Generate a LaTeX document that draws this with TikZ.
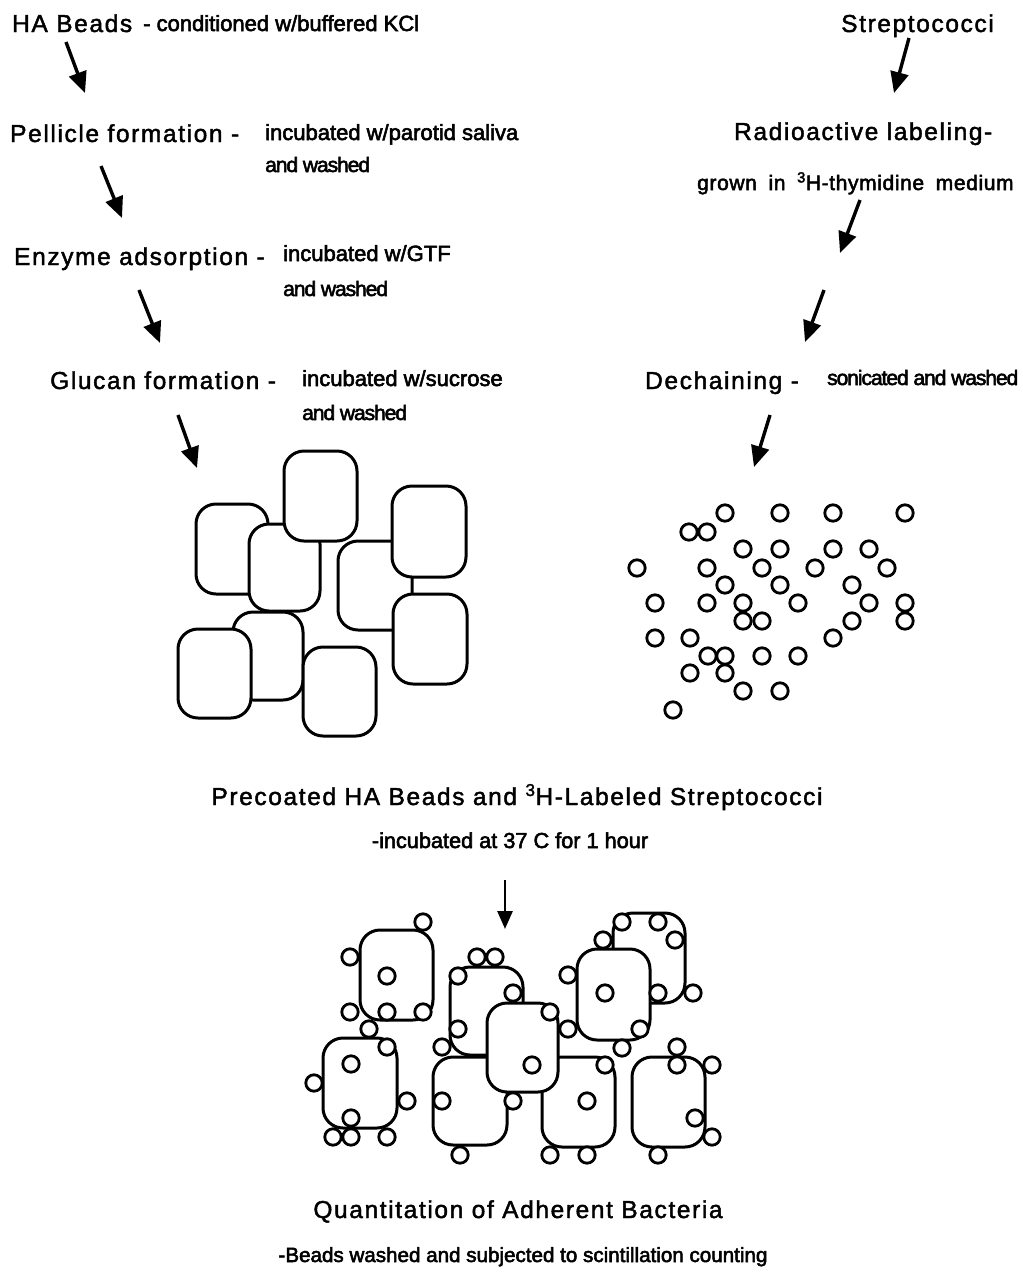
\documentclass[tikz,border=0pt]{standalone}
\usepackage{fontspec}
\setmainfont{Liberation Sans}
\newfontfamily\bigf[LetterSpace=6.6,FakeBold=1.8]{Liberation Sans}
\newfontfamily\smallf[FakeBold=2.6]{Liberation Sans}
\newfontfamily\tightf[FakeBold=2.6,LetterSpace=-5]{Liberation Sans}
\newfontfamily\medf[FakeBold=2.4,LetterSpace=3,WordSpace=1.8]{Liberation Sans}
\usetikzlibrary{arrows.meta}
\tikzset{
  txtbig/.style={font=\bigf\fontsize{24.5}{28}\selectfont, inner sep=0pt, anchor=base west},
  txtsmall/.style={font=\smallf\fontsize{22}{26}\selectfont, inner sep=0pt, anchor=base west},
  txttight/.style={font=\tightf\fontsize{21}{25}\selectfont, inner sep=0pt, anchor=base west},
  txtmed/.style={font=\medf\fontsize{21}{25}\selectfont, inner sep=0pt, anchor=base west},
  txtlow/.style={font=\smallf\fontsize{21}{25}\selectfont, inner sep=0pt, anchor=base},
  arr/.style={line width=3.4pt, -{Triangle[length=21pt,width=18pt]}},
  arrthin/.style={line width=2.8pt, -{Triangle[length=18pt,width=15pt]}},
  bead/.style={line width=3pt, fill=white, rounded corners=20pt},
  cell/.style={line width=2.8pt, fill=white},
}
\begin{document}
\begin{tikzpicture}[x=1pt,y=-1pt]
\useasboundingbox (0,0) rectangle (1023,1278);
% ---- left column texts
\node[txtbig] (ha) at (12,32) {HA Beads};
\node[txtsmall] (hac) at (143,31) {- conditioned w/buffered KCl};
\node[txtbig] (pf) at (10,142) {Pellicle formation -};
\node[txtsmall] (pfc1) at (265,140) {incubated w/parotid saliva};
\node[txttight] (pfc2) at (265,172) {and washed};
\node[txtbig] (ea) at (14,265) {Enzyme adsorption -};
\node[txtsmall] (eac1) at (283,261) {incubated w/GTF};
\node[txttight] (eac2) at (283,296) {and washed};
\node[txtbig] (gf) at (50,389) {Glucan formation -};
\node[txtsmall] (gfc1) at (302,386) {incubated w/sucrose};
\node[txttight] (gfc2) at (302,420) {and washed};
% ---- right column texts
\node[txtbig] (st) at (841,32) {Streptococci};
\node[txtbig] (rl) at (734,140) {Radioactive labeling-};
\node[txtmed] (rlc) at (697,190) {grown in \textsuperscript{3}H-thymidine medium};
\node[txtbig] (dc) at (645,389) {Dechaining -};
\node[txttight] (dcc) at (827,385) {sonicated and washed};
% ---- lower texts
\node[txtbig, anchor=base] (pre) at (517,805) {Precoated HA Beads and \textsuperscript{3}H-Labeled Streptococci};
\node[txtlow, font=\smallf\fontsize{21.7}{25}\selectfont] (inc) at (510,848) {-incubated at 37 C for 1 hour};
\node[txtlow, font=\smallf\fontsize{20.6}{25}\selectfont] (bw) at (523,1262) {-Beads washed and subjected to scintillation counting};
\node[txtbig, anchor=base] (qu) at (518,1218) {Quantitation of Adherent Bacteria};
% ---- arrows
\coordinate (a1s) at (66,42);   \coordinate (a1e) at (85,93);
\coordinate (a2s) at (101,166); \coordinate (a2e) at (122,218);
\coordinate (a3s) at (139,290); \coordinate (a3e) at (160,343);
\coordinate (a4s) at (178,415); \coordinate (a4e) at (197,468);
\coordinate (b1s) at (909,38);  \coordinate (b1e) at (894,93);
\coordinate (b2s) at (860,200); \coordinate (b2e) at (840,253);
\coordinate (b3s) at (824,290); \coordinate (b3e) at (805,342);
\coordinate (b4s) at (770,415); \coordinate (b4e) at (754,467);
\coordinate (c1s) at (505,880); \coordinate (c1e) at (505,929);
\foreach \s/\e in {a1s/a1e,a2s/a2e,a3s/a3e,a4s/a4e,b1s/b1e,b2s/b2e,b3s/b3e,b4s/b4e}
  \draw[arr] (\s) -- (\e);
\draw[arrthin] (c1s) -- (c1e);
% ---- left bead cluster (back to front)
\draw[bead] (196,504) rectangle (268,594);
\draw[bead] (249,524) rectangle (320,611);
\draw[bead] (284,451) rectangle (357,541);
\draw[bead] (338,541) rectangle (412,630);
\draw[bead] (392,486) rectangle (466,577);
\draw[bead] (393,594) rectangle (467,684);
\draw[bead] (233,612) rectangle (303,700);
\draw[bead] (178,629) rectangle (251,718);
\draw[bead] (303,647) rectangle (376,736);
% ---- dechained streptococci
\foreach \x/\y in {725/513,780/513,833/513,905/513,
  689/532,707/532,
  743/549,780/549,833/549,869/549,
  637/568,707/568,762/568,815/568,887/568,
  725/585,780/585,852/585,
  655/603,707/603,743/603,798/603,869/603,905/603,
  743/621,762/621,852/621,905/621,
  655/638,690/638,833/638,
  708/656,725/656,762/656,798/656,
  690/673,725/673,
  743/691,780/691,
  673/710}
  \draw[cell] (\x,\y) circle[radius=8.2pt];
% ---- bottom cluster beads
\draw[bead] (360,930) rectangle (433,1020);
\draw[bead] (323,1038) rectangle (397,1128);
\draw[bead] (433,1057) rectangle (507,1145);
\draw[bead] (450,967) rectangle (523,1055);
\draw[bead] (542,1057) rectangle (615,1147);
\draw[bead] (487,1003) rectangle (558,1092);
\draw[bead] (613,913) rectangle (685,1003);
\draw[bead] (577,949) rectangle (650,1040);
\draw[bead] (632,1057) rectangle (705,1147);
% ---- adherent bacteria
\foreach \x/\y in {423/922,350/957,387/976,350/1012,387/1012,423/1012,
  369/1029,387/1047,351/1064,314/1083,407/1101,351/1118,333/1137,351/1137,387/1137,
  477/957,495/957,458/976,513/993,458/1029,442/1047,442/1101,460/1155,
  550/1012,568/1029,532/1065,513/1101,
  622/922,658/922,603/940,675/940,568/975,605/993,658/993,693/993,640/1029,622/1048,
  605/1065,587/1101,550/1155,587/1155,
  677/1047,677/1065,712/1065,695/1118,712/1137,658/1155}
  \draw[cell] (\x,\y) circle[radius=8.2pt];
\end{tikzpicture}
\end{document}
